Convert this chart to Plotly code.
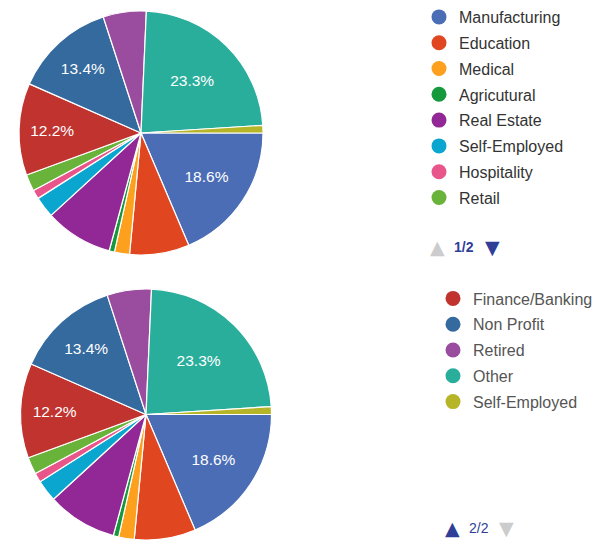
import plotly.graph_objects as go

# ---- data ----
categories = ["Manufacturing", "Education", "Medical", "Agricutural", "Real Estate",
              "Self-Employed", "Hospitality", "Retail", "Finance/Banking", "Non Profit",
              "Retired", "Other", "Self-Employed "]
values = [18.6, 7.9, 2.0, 0.7, 9.0, 2.8, 1.2, 2.2, 12.2, 13.4, 5.7, 23.3, 1.0]
colors = ["#4a6db5", "#e0461f", "#fca01d", "#16983c", "#922896", "#0aa6cf", "#e8558a",
          "#6ab33a", "#c0332f", "#356a9e", "#9a4c9e", "#2aae9c", "#b5b527"]
page1 = categories[:8]
page2 = categories[8:]
page_labels = ["1/2", "2/2"]
label_min = 10.0  # only large slices show their percentage

texts = ["%{percent:.1%}" if v >= label_min else "" for v in values]

fig = go.Figure()

pie_common = dict(
    labels=categories, values=values, sort=False, direction="clockwise", rotation=90,
    marker=dict(colors=colors, line=dict(color="white", width=1.2)),
    texttemplate=texts, textposition="inside", insidetextorientation="horizontal",
    textfont=dict(color="white", size=15.5, family="Liberation Sans, Arial"),
    showlegend=False, hoverinfo="label+percent",
)
fig.add_trace(go.Pie(domain=dict(x=[19/605, 263/605], y=[1-255/540, 1-11/540]), **pie_common))
fig.add_trace(go.Pie(domain=dict(x=[20/605, 272/605], y=[0, 1-289/540]), **pie_common))

# legend entries (two pages)
for i, name in enumerate(page1):
    c = colors[categories.index(name)]
    fig.add_trace(go.Scatter(x=[None], y=[None], mode="markers", name=name,
                             marker=dict(color=c, size=15, symbol="circle"),
                             legend="legend", legendgroup=f"a{i}",
                             showlegend=True, hoverinfo="skip"))
for i, name in enumerate(page2):
    c = colors[categories.index(name)]
    fig.add_trace(go.Scatter(x=[None], y=[None], mode="markers", name=name,
                             marker=dict(color=c, size=15, symbol="circle"),
                             legend="legend2", legendgroup=f"b{i}",
                             showlegend=True, hoverinfo="skip"))

NAVY = "#2f3e96"
GREY = "#cccccc"
FONT = "Liberation Sans, Arial"


def pager(x_up, x_txt, x_down, y, label, up_col, down_col, bold):
    yy = 1 - y / 540
    txt = f"<b>{label}</b>" if bold else label
    return [
        dict(x=x_up/605, y=yy, xref="paper", yref="paper", xanchor="center", yanchor="middle",
             showarrow=False, text="▲", font=dict(family="DejaVu Sans", size=19, color=up_col)),
        dict(x=x_txt/605, y=yy, xref="paper", yref="paper", xanchor="center", yanchor="middle",
             showarrow=False, text=txt, font=dict(family=FONT, size=14, color=NAVY)),
        dict(x=x_down/605, y=yy, xref="paper", yref="paper", xanchor="center", yanchor="middle",
             showarrow=False, text="▼", font=dict(family="DejaVu Sans", size=19, color=down_col)),
    ]


legend_font = dict(family=FONT, size=16)
fig.update_layout(
    width=605, height=540,
    margin=dict(l=0, r=0, t=0, b=0),
    paper_bgcolor="white", plot_bgcolor="white",
    xaxis=dict(visible=False), yaxis=dict(visible=False),
    legend=dict(x=419/605, y=1-0/540, xanchor="left", yanchor="top",
                font=dict(color="#333333", **legend_font), itemsizing="trace",
                bgcolor="rgba(0,0,0,0)", traceorder="grouped", tracegroupgap=2),
    legend2=dict(x=433/605, y=1-281.5/540, xanchor="left", yanchor="top",
                 font=dict(color="#555555", **legend_font), itemsizing="trace",
                 bgcolor="rgba(0,0,0,0)", traceorder="grouped", tracegroupgap=2),
    annotations=pager(437.5, 464, 492.5, 247.5, page_labels[0], GREY, NAVY, True)
               + pager(452.5, 479, 506.5, 527.5, page_labels[1], NAVY, GREY, False),
)

fig.write_html("out.html", post_script="document.body.style.margin='0';",
               config={"displayModeBar": False})
